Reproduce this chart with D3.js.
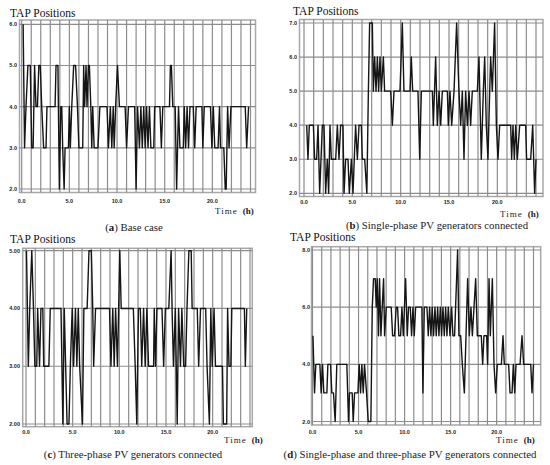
<!DOCTYPE html>
<html>
<head>
<meta charset="utf-8">
<script src="https://cdn.jsdelivr.net/npm/d3@7"></script>
<style>
  body { margin: 0; background: #fff; }
  svg { display: block; }
</style>
</head>
<body>
<div id="chart"></div>
<script>
// tap position traces, as [hour, tap]
const baseCase = [[0.15,6],[0.3,3],[0.45,4],[0.65,5],[0.9,5],[1.05,3],[1.2,3],[1.35,5],[1.5,4],[1.65,4],[1.8,5],[1.95,5],[2.1,4],[2.3,3],[2.55,3],[2.65,4],[3.5,4],[3.6,5],[3.8,5],[3.95,2],[4.1,4],[4.2,4],[4.3,3],[4.45,2],[4.55,3],[4.9,3],[5.0,4],[5.1,3],[5.25,4],[5.45,5],[5.65,5],[5.85,4],[6.0,3],[6.4,3],[6.5,5],[6.6,4],[6.75,5],[6.85,4],[7.0,5],[7.1,5],[7.25,4],[7.35,3],[7.45,4],[7.6,3],[8.0,3],[8.2,4],[8.95,4],[9.1,3],[9.3,4],[9.45,3],[9.6,4],[9.7,3],[9.85,4],[10.05,5],[10.25,4],[10.85,4],[11.0,3],[11.2,4],[11.85,4],[12.0,2],[12.15,4],[12.35,3],[12.5,4],[12.65,3],[12.8,4],[12.95,3],[13.1,4],[13.25,3],[13.4,4],[13.55,3],[13.85,3],[13.95,4],[14.5,4],[14.65,3],[14.8,4],[15.5,4],[15.6,5],[15.7,5],[15.85,4],[16.1,4],[16.25,2],[16.45,4],[16.6,3],[16.95,3],[17.05,4],[17.2,3],[17.35,4],[17.5,3],[17.65,4],[18.0,4],[18.15,3],[18.3,4],[18.9,4],[19.0,3],[19.15,4],[19.8,4],[19.95,3],[20.1,4],[20.25,3],[20.6,3],[20.75,4],[20.85,3],[21.2,3],[21.35,2],[21.45,2],[21.6,4],[21.75,3],[21.95,4],[23.45,4],[23.6,3],[23.8,4]];

const singlePhase = [[0.28,4],[0.41,3],[0.55,4],[0.97,4],[1.1,3],[1.31,3],[1.45,4],[1.62,2],[1.9,4],[2.07,4],[2.24,2],[2.41,3],[2.55,2],[2.69,4],[2.83,3],[3.28,3],[3.45,4],[3.62,3],[3.79,4],[4.03,4],[4.14,2],[4.31,3],[4.55,3],[4.69,2],[4.9,3],[5.07,2],[5.2,3],[5.34,4],[5.52,3],[5.69,4],[5.93,4],[6.03,3],[6.28,3],[6.5,2],[6.66,5],[6.79,7],[7.07,7],[7.17,5],[7.31,6],[7.45,5],[7.59,6],[7.72,5],[7.86,6],[8.0,5],[8.21,6],[8.34,5],[8.97,5],[9.14,4],[9.31,5],[9.93,5],[10.17,7],[10.34,5],[10.97,5],[11.1,6],[11.24,5],[11.79,5],[11.97,3],[12.14,5],[13.28,5],[13.38,4],[13.62,6],[13.79,4],[13.97,5],[14.14,4],[14.31,5],[14.83,5],[14.93,4],[15.1,5],[15.28,4],[15.52,5],[15.79,7],[16.03,5],[16.21,4],[16.38,5],[16.55,3],[16.72,5],[16.9,4],[17.07,5],[17.24,4],[17.41,5],[17.93,5],[18.1,6],[18.34,3],[18.55,5],[18.69,6],[18.86,4],[19.03,3],[19.21,5],[19.31,6],[19.48,5],[19.72,7],[19.9,4],[20.07,3],[20.24,4],[21.38,4],[21.48,3],[21.62,4],[21.76,3],[21.9,4],[22.07,3],[22.31,4],[22.93,4],[23.03,3],[23.45,3],[23.66,4],[23.86,2],[24.0,3]];

const threePhase = [[0.05,5],[0.25,3],[0.4,4],[0.62,5],[0.8,4],[0.95,3],[1.15,3],[1.25,4],[1.45,3],[1.6,4],[1.8,4],[1.9,3],[2.05,3],[2.45,3],[2.6,4],[3.75,4],[3.95,2],[4.1,4],[4.25,3],[4.4,2],[4.6,2],[4.75,3],[4.95,4],[5.1,3],[5.3,4],[5.45,3],[5.6,4],[5.75,3],[6.05,2],[6.2,4],[6.55,4],[6.75,5],[7.0,5],[7.15,4],[7.25,3],[7.45,4],[8.95,4],[9.1,3],[9.3,4],[9.45,3],[9.6,4],[9.8,3],[10.05,5],[10.2,4],[11.5,4],[11.7,3],[11.87,2],[12.05,4],[12.25,4],[12.4,3],[12.6,4],[12.77,3],[12.95,4],[13.13,3],[13.4,3],[13.67,3],[13.74,4],[13.88,3],[14.03,4],[14.57,4],[14.75,3],[14.93,4],[15.3,4],[15.55,5],[15.65,4],[15.8,3],[16.0,4],[16.2,2],[16.35,4],[16.55,3],[16.7,4],[16.9,3],[17.1,3],[17.25,4],[17.45,5],[17.7,5],[17.8,4],[18.35,4],[18.5,3],[18.7,4],[19.25,4],[19.4,3],[19.65,2],[19.8,4],[19.95,3],[20.15,4],[20.3,3],[20.7,3],[21.05,3],[21.15,2],[21.5,2],[21.6,4],[21.75,3],[21.95,3],[22.05,4],[23.4,4],[23.5,3],[23.65,4]];

const bothPhases = [[0.05,5],[0.22,3],[0.36,4],[0.8,4],[0.94,3],[1.09,4],[1.23,3],[1.56,3],[1.67,4],[1.96,4],[2.1,3],[2.28,3],[2.46,2],[2.64,4],[3.73,4],[3.91,2],[4.02,3],[4.31,3],[4.42,2],[4.57,3],[4.93,3],[5.07,4],[5.22,3],[5.36,4],[5.51,3],[5.65,4],[5.87,3],[6.05,2],[6.34,2],[6.49,6],[6.63,7],[6.81,7],[6.92,6],[7.03,7],[7.17,5],[7.28,7],[7.43,5],[7.57,6],[7.72,7],[7.83,5],[8.01,6],[8.55,6],[8.7,5],[8.91,5],[9.09,6],[9.24,6],[9.38,5],[9.57,5],[9.71,6],[9.86,5],[10.11,7],[10.29,5],[10.43,6],[10.62,6],[10.76,5],[10.91,6],[11.05,5],[11.2,6],[11.88,6],[11.99,3],[12.14,6],[12.43,6],[12.57,5],[12.72,6],[12.86,5],[13.0,6],[13.15,5],[13.3,6],[13.44,5],[13.59,6],[13.73,5],[13.88,6],[14.02,5],[14.17,6],[14.31,5],[14.46,6],[14.6,5],[14.75,6],[14.93,5],[15.11,6],[15.25,5],[15.43,5],[15.76,8],[15.9,5],[16.09,5],[16.27,4],[16.49,3],[16.67,5],[16.85,7],[17.03,5],[17.21,6],[17.36,5],[17.54,6],[17.72,7],[17.9,5],[18.33,5],[18.48,4],[18.62,5],[18.91,5],[19.02,4],[19.17,7],[19.31,5],[19.53,7],[19.71,4],[19.89,3],[20.07,4],[20.51,4],[20.69,5],[20.83,4],[21.3,4],[21.45,3],[21.67,3],[21.81,4],[21.96,3],[22.1,4],[22.54,4],[22.75,5],[22.93,4],[23.7,4],[23.84,3],[24.0,4]];

const xTicks = [0, 5, 10, 15, 20];
const gridHours = d3.range(0, 25);
const yTicksA = [2, 3, 4, 5, 6];
const yTicksB = [2, 3, 4, 5, 6, 7];
const yTicksC = [2, 3, 4, 5];
const yTicksD = [2, 4, 6, 8];
const captionKeys = ["a", "b", "c", "d"];
const captionTexts = [" Base case", " Single-phase PV generators connected",
  " Three-phase PV generators connected", " Single-phase and three-phase PV generators connected"];

// panel placement, in page pixels
const panels = [
  { data: baseCase, yTicks: yTicksA, fmt: ".1f", domain: [2, 6],
    frame: [19.5, 20, 255.5, 192.5], xr: [21.7, 250.5], yr: [189, 24.3],
    yLabelX: 17, xLabelY: 202.5, title: [10, 16.5], time: [215, 214], cap: [134, 231] },
  { data: singlePhase, yTicks: yTicksB, fmt: ".1f", domain: [2, 7],
    frame: [299.5, 19.5, 543, 196.5], xr: [304, 536], yr: [193.3, 23],
    yLabelX: 297, xLabelY: 204, title: [293, 14.5], time: [500, 217], cap: [437, 229] },
  { data: threePhase, yTicks: yTicksC, fmt: ".2f", domain: [2, 5],
    frame: [22.7, 248.3, 252.3, 426.7], xr: [26, 250], yr: [424, 250.7],
    yLabelX: 20, xLabelY: 434, title: [10, 242.5], time: [224, 443], cap: [133, 458] },
  { data: bothPhases, yTicks: yTicksD, fmt: ".1f", domain: [2, 8],
    frame: [311.5, 246.7, 540.7, 425], xr: [312.5, 533.5], yr: [421.5, 250],
    yLabelX: 310, xLabelY: 434, title: [290, 241], time: [496, 443], cap: [410, 458] }
];

const svg = d3.select("#chart").append("svg")
  .attr("width", 550)
  .attr("height", 465);

panels.forEach((p, i) => {
  const x = d3.scaleLinear().domain([0, 24]).range(p.xr);
  const y = d3.scaleLinear().domain(p.domain).range(p.yr);
  const [fl, ft, fr, fb] = p.frame;
  const g = svg.append("g");

  // plot frame
  g.append("rect")
    .attr("x", fl).attr("y", ft)
    .attr("width", fr - fl).attr("height", fb - ft)
    .attr("fill", "#fff")
    .attr("stroke", "#a8a8a8")
    .attr("stroke-width", 1.5);

  // hourly vertical grid
  g.selectAll(".vg").data(gridHours).enter().append("line")
    .attr("x1", d => x(d)).attr("x2", d => x(d))
    .attr("y1", ft).attr("y2", fb)
    .attr("stroke", "#8c8c8c")
    .attr("stroke-width", 1.2);

  // horizontal grid at each tap tick
  g.selectAll(".hg").data(p.yTicks).enter().append("line")
    .attr("x1", fl).attr("x2", fr)
    .attr("y1", d => y(d)).attr("y2", d => y(d))
    .attr("stroke", "#8c8c8c")
    .attr("stroke-width", 1.2);

  // tap trace
  const line = d3.line().x(d => x(d[0])).y(d => y(d[1]));
  g.append("path")
    .datum(p.data)
    .attr("d", line)
    .attr("fill", "none")
    .attr("stroke", "#151515")
    .attr("stroke-width", 1.4)
    .attr("stroke-linejoin", "round");

  // tick labels
  g.selectAll(".yl").data(p.yTicks).enter().append("text")
    .attr("x", p.yLabelX).attr("y", d => y(d) + 2)
    .attr("text-anchor", "end")
    .attr("font-family", "Liberation Sans, Arial, sans-serif")
    .attr("font-weight", "bold")
    .attr("font-size", 5.5)
    .attr("fill", "#222")
    .text(d => d3.format(p.fmt)(d));

  g.selectAll(".xl").data(xTicks).enter().append("text")
    .attr("x", d => x(d)).attr("y", p.xLabelY)
    .attr("text-anchor", "middle")
    .attr("font-family", "Liberation Sans, Arial, sans-serif")
    .attr("font-weight", "bold")
    .attr("font-size", 5.5)
    .attr("fill", "#222")
    .text(d => d3.format(".1f")(d));

  // titles and axis name
  g.append("text")
    .attr("x", p.title[0]).attr("y", p.title[1])
    .attr("font-family", "Liberation Serif, Times New Roman, serif")
    .attr("font-size", 11.5)
    .attr("fill", "#111")
    .text("TAP Positions");

  const t = g.append("text")
    .attr("x", p.time[0]).attr("y", p.time[1])
    .attr("font-family", "Liberation Serif, Times New Roman, serif")
    .attr("font-size", 9)
    .attr("fill", "#222");
  t.append("tspan").attr("letter-spacing", 1).text("Time");
  t.append("tspan").attr("dx", 5).attr("font-weight", "bold").text("(h)");

  // caption under the panel
  const c = g.append("text")
    .attr("x", p.cap[0]).attr("y", p.cap[1])
    .attr("text-anchor", "middle")
    .attr("font-family", "Liberation Serif, Times New Roman, serif")
    .attr("font-size", 10.8)
    .attr("fill", "#222");
  c.append("tspan").text("(");
  c.append("tspan").attr("font-weight", "bold").text(captionKeys[i]);
  c.append("tspan").text(")" + captionTexts[i]);
});
</script>
</body>
</html>
